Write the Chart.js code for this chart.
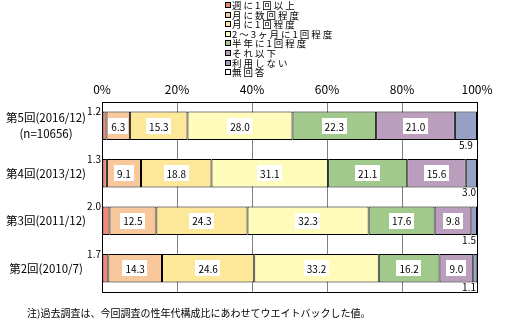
<!DOCTYPE html>
<html lang="ja">
<head>
<meta charset="utf-8">
<script src="https://cdn.jsdelivr.net/npm/chart.js@4.4.0/dist/chart.umd.min.js"></script>
<style>
  body { margin: 0; background: #fff; }
</style>
</head>
<body>
<canvas id="myChart" width="508" height="324"></canvas>
<script>
// 調査回 (上から順)
const rounds = [['第5回(2016/12)', '(n=10656)'], '第4回(2013/12)', '第3回(2011/12)', '第2回(2010/7)'];
const pctTicks = [0, 20, 40, 60, 80, 100];
const freqNames = ['週に1回以上', '月に数回程度', '月に1回程度', '2～3ヶ月に1回程度', '半年に1回程度', 'それ以下', '利用しない', '無回答'];

// 頻度ごとの割合(%)
const weekly    = [1.2, 1.3, 2.0, 1.7];
const fewMonth  = [6.3, 9.1, 12.5, 14.3];
const monthly   = [15.3, 18.8, 24.3, 24.6];
const bimonthly = [28.0, 31.1, 32.3, 33.2];
const halfYear  = [22.3, 21.1, 17.6, 16.2];
const lessOften = [21.0, 15.6, 9.8, 9.0];
const neverUse  = [5.9, 3.0, 1.5, 1.1];
const noAnswer  = [0, 0, 0, 0];

const series = [weekly, fewMonth, monthly, bimonthly, halfYear, lessOften, neverUse, noAnswer];
const colors = ['#ee8877', '#f9c89a', '#fde89a', '#fffcbb', '#a1c98c', '#bb9dbd', '#97a1c6', '#ffffff'];

const FONT = '"Noto Sans CJK JP", sans-serif';

// 凡例 (縦一列)、注記、グラフ枠
const legendBox = {
    id: 'legendBox',
    afterDraw(chart) {
        const ctx = chart.ctx;
        ctx.save();
        ctx.font = '9.5px ' + FONT;
        ctx.letterSpacing = '2px';
        ctx.textBaseline = 'middle';
        ctx.lineWidth = 1;
        chart.data.datasets.forEach((ds, i) => {
            const y = Math.round(5 + i * 9.6);
            ctx.fillStyle = ds.backgroundColor;
            ctx.fillRect(225, y - 3, 6, 6);
            ctx.strokeStyle = '#000';
            ctx.strokeRect(225.5, y - 2.5, 5, 5);
            ctx.fillStyle = '#000';
            ctx.fillText(ds.label, 232, y);
        });
        ctx.letterSpacing = '0px';
        ctx.font = '10px ' + FONT;
        ctx.fillText('注)過去調査は、今回調査の性年代構成比にあわせてウエイトバックした値。', 27, 313);
        const a = chart.chartArea;
        ctx.strokeStyle = '#000';
        ctx.strokeRect(Math.round(a.left) + 0.5, Math.round(a.top) + 0.5, Math.round(a.right - a.left), Math.round(a.bottom - a.top));
        ctx.restore();
    }
};

// 値ラベル
const valueLabels = {
    id: 'valueLabels',
    afterDatasetsDraw(chart) {
        const ctx = chart.ctx;
        const area = chart.chartArea;
        ctx.save();
        ctx.font = '10px ' + FONT;
        ctx.textBaseline = 'middle';
        chart.data.datasets.forEach((ds, i) => {
            chart.getDatasetMeta(i).data.forEach((bar, j) => {
                const v = ds.data[j];
                if (!v) return;
                const txt = v.toFixed(1);
                const w = ctx.measureText(txt).width;
                const p = bar.getProps(['x', 'y', 'base', 'height'], true);
                const top = p.y - p.height / 2;
                const bottom = p.y + p.height / 2;
                ctx.fillStyle = '#000';
                if (i === 0) {
                    ctx.textAlign = 'right';
                    ctx.fillText(txt, area.left - 1, top);
                } else if (i === 6) {
                    let cx = (p.x + p.base) / 2;
                    cx = Math.min(cx, area.right - w / 2 - 1);
                    ctx.textAlign = 'center';
                    ctx.fillText(txt, cx, bottom + 5);
                } else {
                    const cx = (p.x + p.base) / 2;
                    ctx.fillStyle = '#fff';
                    ctx.fillRect(Math.round(cx - w / 2 - 3), Math.round(p.y - 8), Math.round(w + 6), 16);
                    ctx.fillStyle = '#000';
                    ctx.textAlign = 'center';
                    ctx.fillText(txt, cx, p.y + 1);
                }
            });
        });
        ctx.restore();
    }
};

new Chart(document.getElementById('myChart'), {
    type: 'bar',
    data: {
        labels: rounds,
        datasets: series.map((d, i) => ({
            label: freqNames[i],
            data: d,
            backgroundColor: colors[i],
            borderColor: '#000',
            borderWidth: 1,
            borderSkipped: false,
            categoryPercentage: 1,
            barPercentage: 0.6
        }))
    },
    options: {
        indexAxis: 'y',
        responsive: false,
        animation: false,
        devicePixelRatio: 1,
        layout: { padding: { top: 80, right: 31, bottom: 27, left: 0 } },
        plugins: {
            legend: { display: false },
            tooltip: { enabled: false }
        },
        scales: {
            x: {
                position: 'top',
                stacked: true,
                min: 0,
                max: 100,
                afterBuildTicks: s => { s.ticks = pctTicks.map(v => ({ value: v })); },
                afterFit: s => { s.height = 22; },
                grid: { color: '#808080', drawTicks: false },
                border: { color: '#000' },
                ticks: {
                    padding: 5,
                    color: '#000',
                    font: { family: FONT, size: 12 },
                    callback: v => v + '%'
                }
            },
            y: {
                stacked: true,
                afterFit: s => { s.width = 102; },
                grid: { display: false, drawTicks: false },
                border: { color: '#000' },
                ticks: {
                    padding: 16,
                    crossAlign: 'center',
                    color: '#000',
                    font: { family: FONT, size: 11.5, lineHeight: 1.4 }
                }
            }
        }
    },
    plugins: [valueLabels, legendBox]
});
</script>
</body>
</html>
